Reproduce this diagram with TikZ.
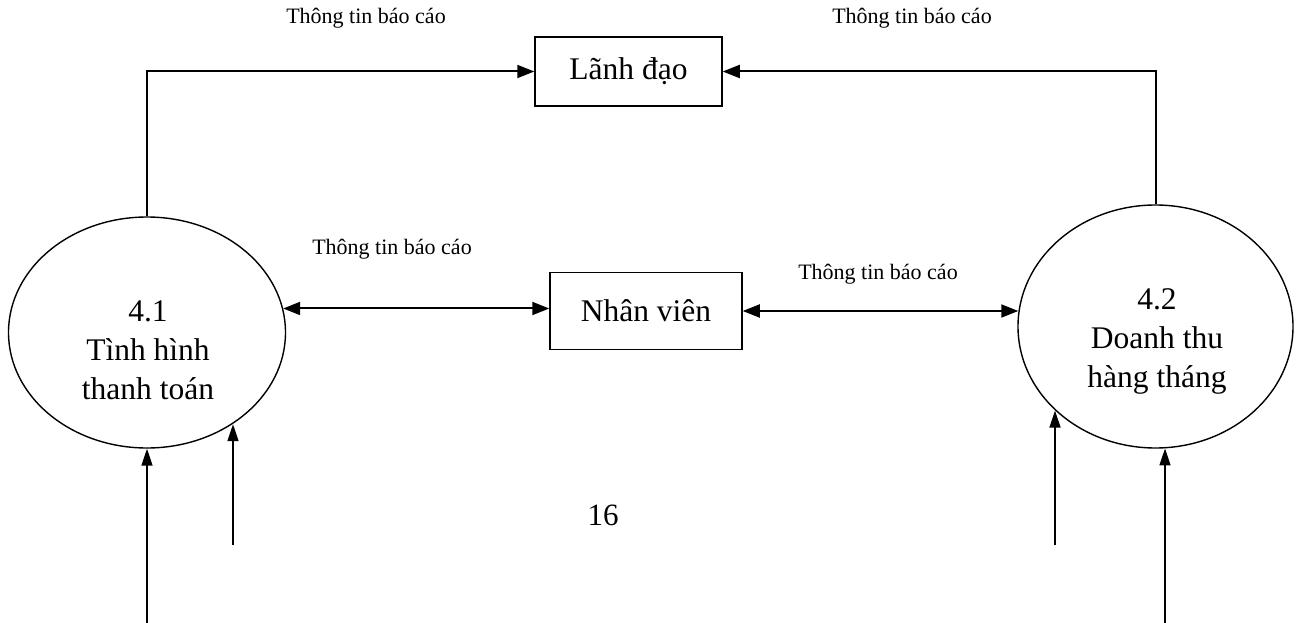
\documentclass[tikz,border=0pt]{standalone}
\usepackage{fontspec}
\setmainfont{Liberation Serif}
\usetikzlibrary{arrows.meta,shapes.geometric}
\begin{document}
\begin{tikzpicture}[x=1pt,y=-1pt,
  main/.style={font=\fontsize{31.5}{39}\selectfont},
  lbl/.style={font=\fontsize{22}{24}\selectfont, inner sep=0pt},
  line/.style={main, inner sep=0pt, anchor=base},
  entity/.style={draw, line width=1.5pt, main, inner sep=0pt},
  proc/.style={draw, ellipse, line width=1.4pt, inner sep=0pt},
  flow/.style={line width=2pt, -{Triangle[length=17pt,width=13pt]}},
  bflow/.style={line width=2pt, {Triangle[length=17pt,width=13pt]}-{Triangle[length=17pt,width=13pt]}},
  inflow/.style={line width=1.6pt, -{Triangle[length=17pt,width=11pt]}}]
\useasboundingbox (0,0) rectangle (1304,623);
% entities
\node[entity, minimum width=187pt, minimum height=69pt] (lanh) at (628.5,71.5) {Lãnh đạo};
\node[entity, minimum width=192pt, minimum height=77pt] (nv) at (646,311) {Nhân viên};
% processes
\node[proc, minimum width=277pt, minimum height=231pt] (L) at (147,332.5) {};
\node[proc, minimum width=275pt, minimum height=243pt] (R) at (1155.5,326.5) {};
\node[line] (L1) at (148,321) {4.1};
\node[line] (L2) at (148,360) {Tình hình};
\node[line] (L3) at (148,399) {thanh toán};
\node[line] (R1) at (1157,309) {4.2};
\node[line] (R2) at (1157,348) {Doanh thu};
\node[line] (R3) at (1157,387) {hàng tháng};
% top flows
\draw[flow] (L.north) |- (lanh.west);
\draw[flow] (R.north) |- (lanh.east);
% middle flows
\draw[bflow] (L.10) -- (L.10 -| nv.west);
\draw[bflow] (nv.east) -- (nv.east -| R.174);
% bottom inflows
\coordinate (a1) at (147,623);
\coordinate (a2) at (233,545);
\coordinate (a3) at (1055,545);
\coordinate (a4) at (1165,623);
\draw[inflow] (a1) -- (a1 |- L.south);
\draw[inflow] (a2) -- (a2 |- L.-47);
\draw[inflow] (a3) -- (a3 |- R.220);
\draw[inflow] (a4) -- (a4 |- R.-86);
% labels
\node[lbl] (t1) at (366,18) {Thông tin báo cáo};
\node[lbl] (t2) at (912,18) {Thông tin báo cáo};
\node[lbl] (t3) at (392,249) {Thông tin báo cáo};
\node[lbl] (t4) at (878,274) {Thông tin báo cáo};
\node[font=\fontsize{31}{34}\selectfont] (pg) at (603,515) {16};
\end{tikzpicture}
\end{document}
